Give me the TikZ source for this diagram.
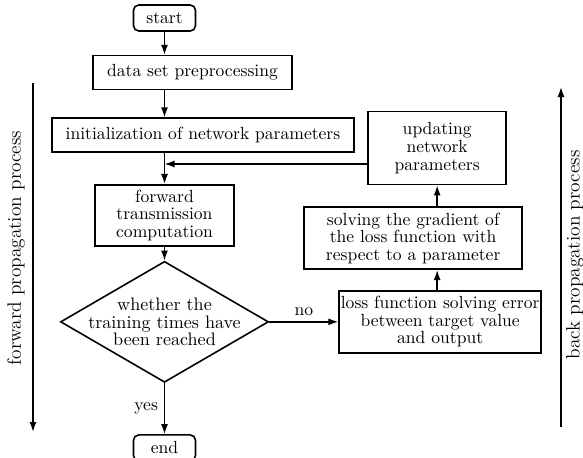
\documentclass[tikz,border=0pt]{standalone}
\usetikzlibrary{positioning,arrows.meta,shapes.geometric}
\tikzset{
    block/.style={%
        draw, line width=0.9pt,
        minimum width=#1,
        minimum height=6.8mm,
        inner sep=1pt,
        align=center,
        font=\fontsize{10}{10}\selectfont
    },
    block/.default=2cm,
    term/.style={block=1.24cm, rounded corners=3pt, minimum height=5.2mm},
    decision/.style={%
        draw, line width=0.9pt, diamond, aspect=1.72,
        inner xsep=-14pt, inner ysep=0pt,
        minimum width=4.16cm, minimum height=2.42cm,
        align=center,
        font=\fontsize{10.3}{10}\selectfont
    },
    side/.style={rotate=90, font=\fontsize{11}{11}\selectfont},
    >={LaTeX[length=2mm,width=1.4mm]}
}
\begin{document}
\begin{tikzpicture}[line width=0.8pt]
    \useasboundingbox (0,0) rectangle (11.66,-9.14);
    \node[term] (S1) at (3.29,-0.36) {start};
    \node[block=3.98cm, below=0.46cm of S1, xshift=0.56cm] (B1) {data set preprocessing};
    \node[block=6.04cm, below=0.54cm of B1, xshift=0.21cm] (B2) {initialization of network parameters};
    \node[block=2.78cm, minimum height=1.22cm, below=0.62cm of B2, xshift=-0.77cm] (B3) {forward\\transmission\\computation};
    \node[decision, below=0.28cm of B3] (C1) {whether the\\training times have\\been reached};
    \node[term, below=1.02cm of C1] (E1) {end};
    \node[block=4cm, minimum height=1.24cm, right=1.38cm of C1] (R1) {loss function solving error\\between target value\\and output};
    \node[block=4.36cm, minimum height=1.24cm, above=0.4cm of R1, xshift=-0.54cm] (R2) {solving the gradient of\\the loss function with\\respect to a parameter};
    \node[block=2.76cm, minimum height=1.46cm, above=0.42cm of R2, xshift=0.48cm] (R3) {updating\\network\\parameters};
    \coordinate (J1) at (3.29,-3.28);
    \draw[->] (S1) -- (S1.south |- B1.north);
    \draw[->] (S1.south |- B1.south) -- (S1.south |- B2.north);
    \draw[->] (B3.north |- B2.south) -- (B3);
    \draw[->] (R3.west |- J1) -- (J1);
    \draw[->] (B3) -- (C1);
    \draw[->] (C1) -- node[above] {no} (R1);
    \draw[->] (C1) -- node[left] {yes} (E1);
    \draw[->] (R1.north -| R3) -- (R2.south -| R3);
    \draw[->] (R2.north -| R3) -- (R3);
    % propagation directions
    \node[side] (T1) at (0.32,-4.96) {forward propagation process};
    \coordinate (A1) at (0.66,-1.66);
    \coordinate (A2) at (0.66,-8.64);
    \draw[->] (A1) -- (A2);
    \node[side] (T2) at (11.50,-5.10) {back propagation process};
    \coordinate (A3) at (11.22,-8.54);
    \coordinate (A4) at (11.22,-1.74);
    \draw[->] (A3) -- (A4);
\end{tikzpicture}
\end{document}
